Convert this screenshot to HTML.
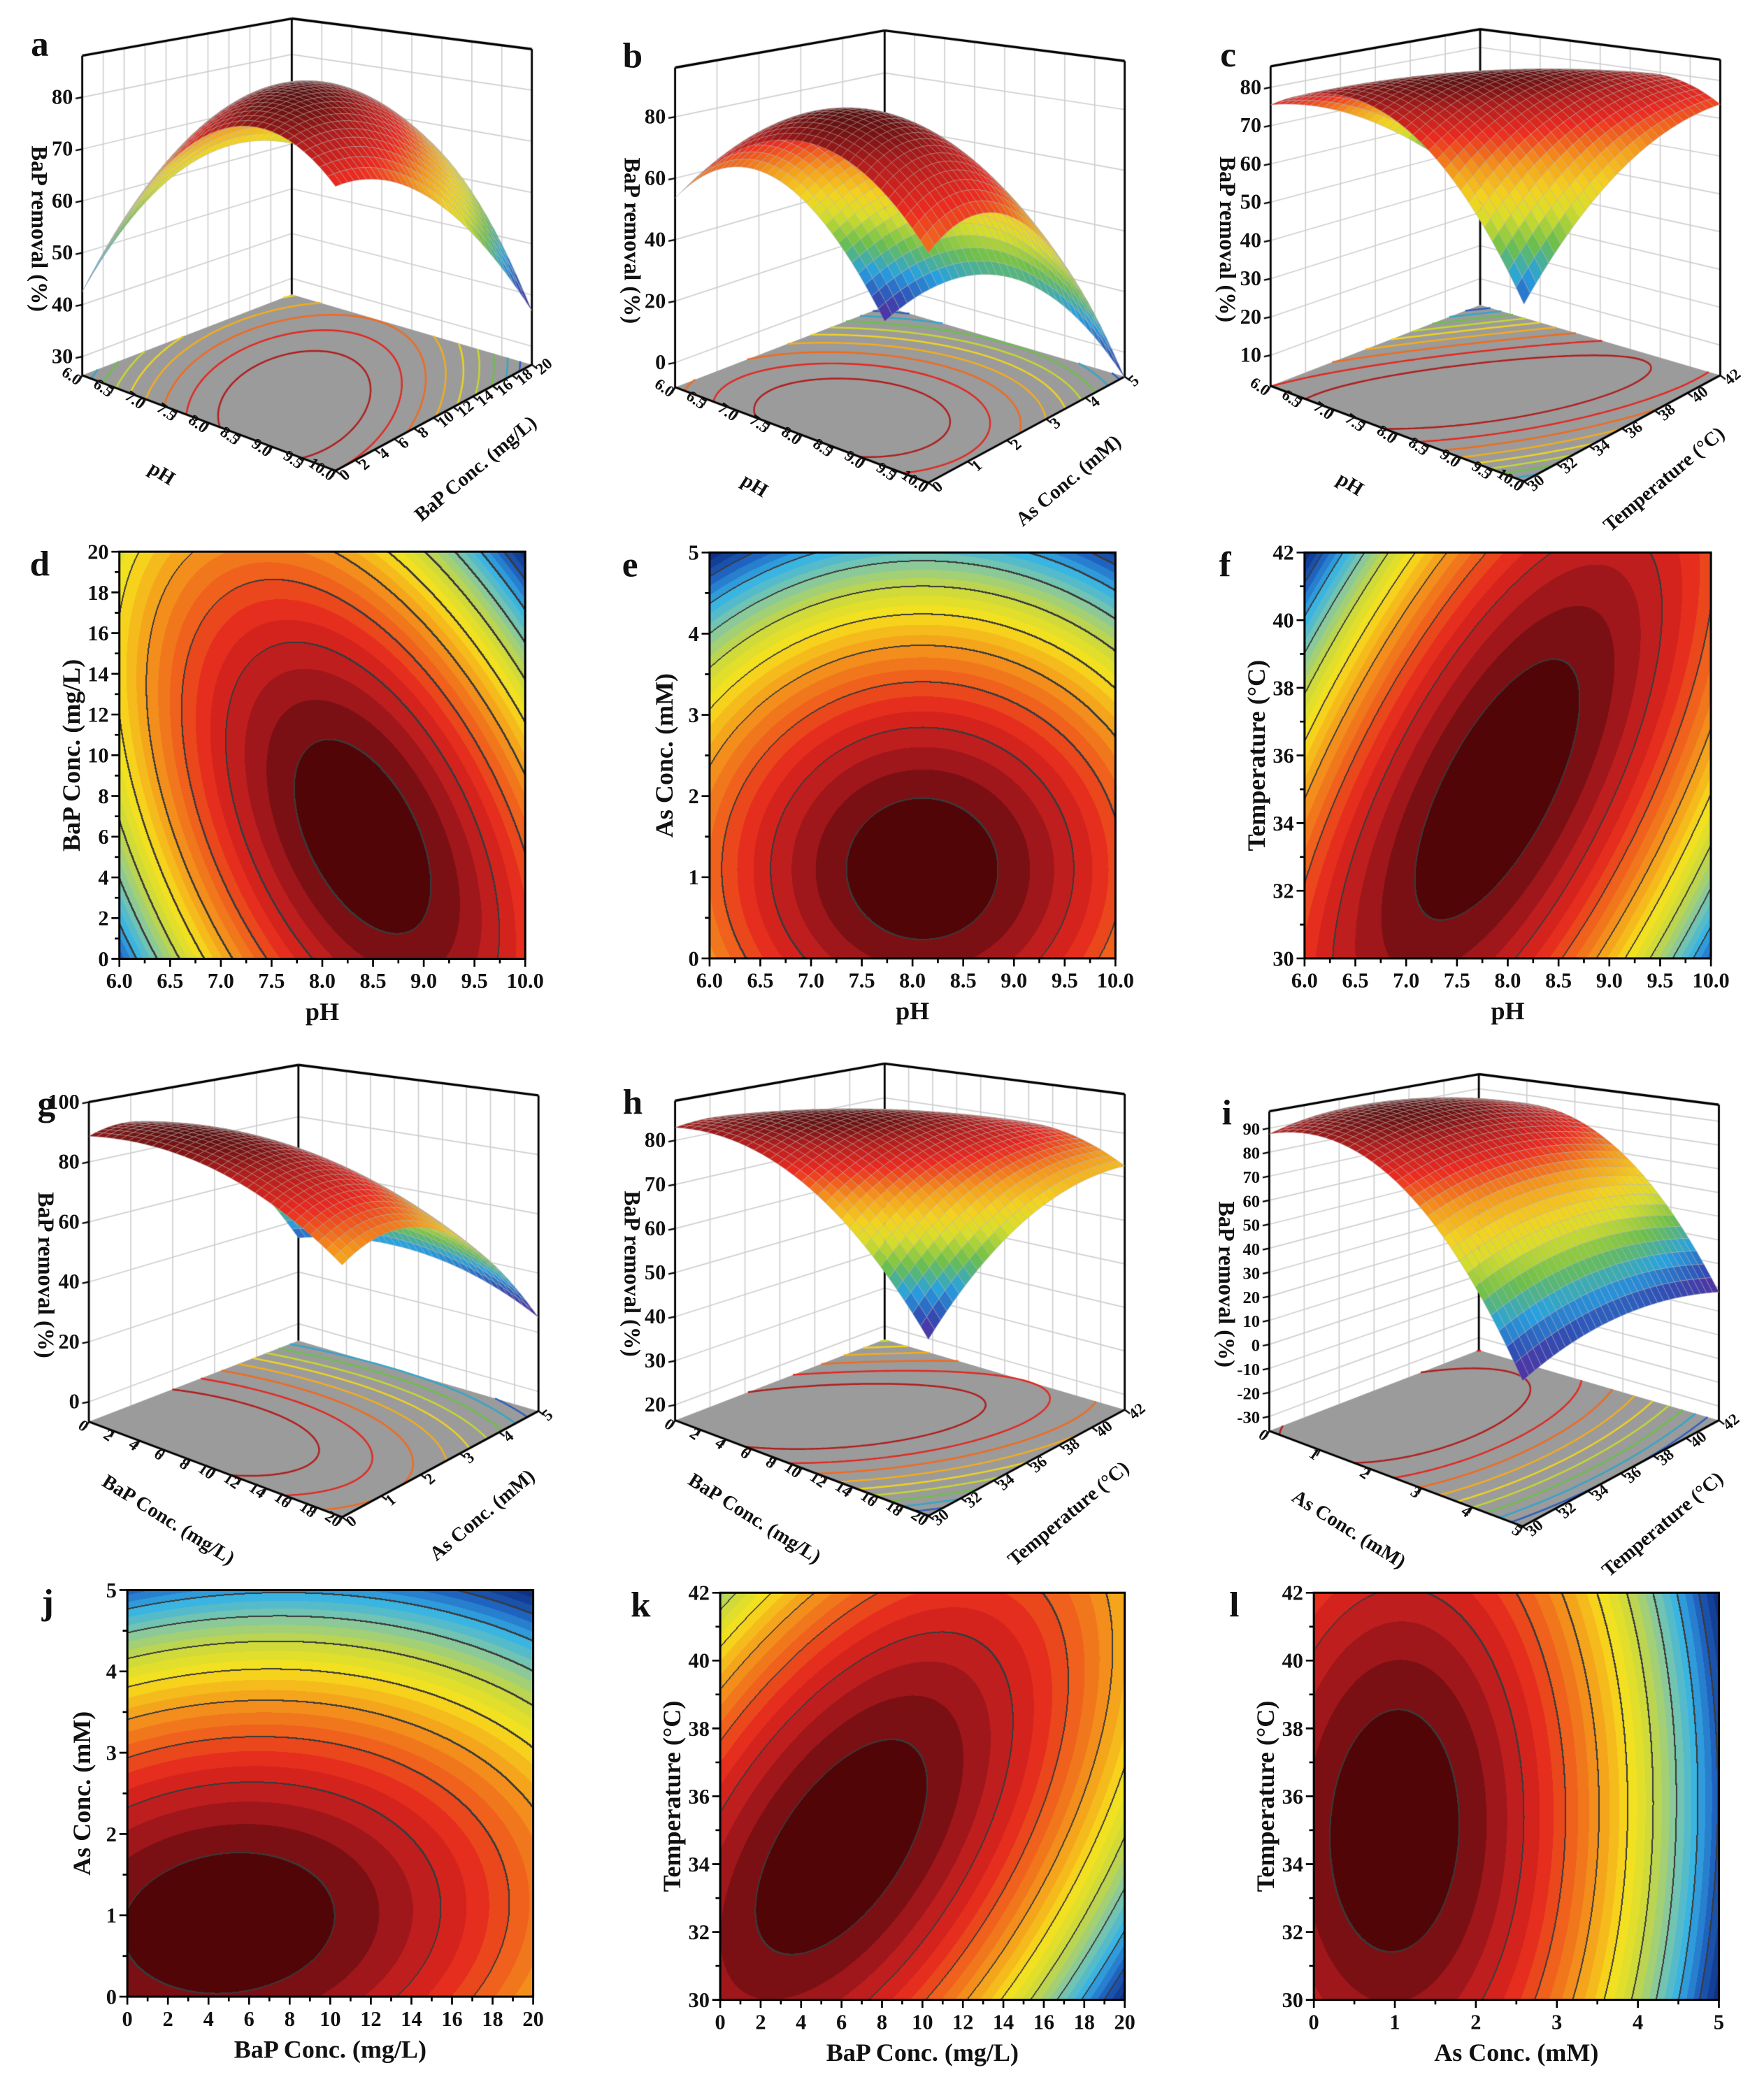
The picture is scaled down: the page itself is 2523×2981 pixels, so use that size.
<!DOCTYPE html>
<html><head><meta charset="utf-8"><style>
html,body{margin:0;padding:0;background:#fff}
#root{position:relative;width:2523px;height:2981px;overflow:hidden;background:#fff}
#cv{position:absolute;left:0;top:0}
#sv{position:absolute;left:0;top:0}
text{font-family:"Liberation Serif",serif;font-weight:bold;fill:#111}
</style></head><body>
<div id="root">
<canvas id="cv" width="2523" height="2981"></canvas>
<svg id="sv" width="2523" height="2981" viewBox="0 0 1330 1571.45"></svg>
</div>
<script>
// ---------- data: quadratic response models (coded units) ----------
const modelPeak=[85,88,85,93,86,97];
const modelCenter1=[0.2,0.05,-0.05,-0.5,-0.4,-0.6];
const modelCenter2=[-0.4,-0.56,-0.17,-0.64,-0.25,-0.17];
const modelA=[20,26,19.5,9,10.2,27.8];
const modelB=[10,30,7.8,20.5,6.6,8];
const modelC=[14,0,-17,-3,-9.6,-1.7];
const modelVar1=['pH','pH','pH','BaP','BaP','As'];
const modelVar2=['BaP','As','Temp','As','Temp','Temp'];
const varRange={pH:[6,10],BaP:[0,20],As:[0,5],Temp:[30,42]};
const varTitle={pH:'pH',BaP:'BaP Conc. (mg/L)',As:'As Conc. (mM)',Temp:'Temperature (\u00B0C)'};
const varTicks={pH:[6,6.5,7,7.5,8,8.5,9,9.5,10],BaP:[0,2,4,6,8,10,12,14,16,18,20],As:[0,1,2,3,4,5],Temp:[30,32,34,36,38,40,42]};
// 3D panels a,b,c,g,h,i
const p3Letter=['a','b','c','g','h','i'];
const p3BaseX=[220,667,1116,225,667,1115];
const p3BaseY=[222,231,230,1011,1010,1018];
const p3ZMin=[26.4,-8,2,-6.6,16.5,-36];
const p3ZMax=[88,96,85.5,100,89,97];
const p3ZTicks=[[30,40,50,60,70,80],[0,20,40,60,80],[10,20,30,40,50,60,70,80],[0,20,40,60,80,100],[20,30,40,50,60,70,80],[-30,-20,-10,0,10,20,30,40,50,60,70,80,90]];
// 2D panels d,e,f,j,k,l
const p2Letter=['d','e','f','j','k','l'];
const p2Box=[[90,416,396,723],[535,416.6,841,722.7],[983.6,416.6,1290,722.7],[96,1199,402,1505.6],[543,1201,848,1508],[990.6,1201,1296,1508]];

const S=2523/1330;
const cv=document.getElementById('cv');
const ctx=cv.getContext('2d');
const sv=document.getElementById('sv');
const NS='http://www.w3.org/2000/svg';

function model(m,v1,v2){
  const r1=varRange[modelVar1[m]], r2=varRange[modelVar2[m]];
  const x1=(v1-r1[0])/(r1[1]-r1[0])*2-1, x2=(v2-r2[0])/(r2[1]-r2[0])*2-1;
  const dx=x1-modelCenter1[m], dy=x2-modelCenter2[m];
  return modelPeak[m]-modelA[m]*dx*dx-modelB[m]*dy*dy-modelC[m]*dx*dy;
}
function hex(c){return [parseInt(c.substr(1,2),16),parseInt(c.substr(3,2),16),parseInt(c.substr(5,2),16)];}
const stops2=[[0,'#0d2a7c'],[0.09,'#1f62c0'],[0.18,'#35b3e6'],[0.28,'#86c8a0'],[0.38,'#c9d93e'],[0.48,'#f7e21c'],[0.6,'#f49a1c'],[0.7,'#ef601c'],[0.79,'#e3261d'],[0.87,'#b81c1e'],[0.94,'#7a1014'],[1,'#3c0000']].map(s=>[s[0],hex(s[1])]);
const stops3=[[0,'#5b2a9e'],[0.08,'#2f4fb5'],[0.18,'#27a1e1'],[0.3,'#6cc04a'],[0.42,'#d8de2a'],[0.52,'#f5d21e'],[0.64,'#f59a1b'],[0.78,'#ec2a20'],[0.9,'#b01d1d'],[1,'#5a0e0e']].map(s=>[s[0],hex(s[1])]);
function cmap(t,st){
  t=Math.max(0,Math.min(1,t));
  for(let i=1;i<st.length;i++){ if(t<=st[i][0]){const a=st[i-1],b=st[i];const f=(t-a[0])/(b[0]-a[0]);
    return [a[1][0]+(b[1][0]-a[1][0])*f,a[1][1]+(b[1][1]-a[1][1])*f,a[1][2]+(b[1][2]-a[1][2])*f];}}
  return st[st.length-1][1];
}
function rgb(c){return 'rgb('+Math.round(c[0])+','+Math.round(c[1])+','+Math.round(c[2])+')';}
function rangeOf(m){let mn=1e9,mx=-1e9;const r1=varRange[modelVar1[m]],r2=varRange[modelVar2[m]];
  for(let i=0;i<=60;i++)for(let j=0;j<=60;j++){const v=model(m,r1[0]+(r1[1]-r1[0])*i/60,r2[0]+(r2[1]-r2[0])*j/60);mn=Math.min(mn,v);mx=Math.max(mx,v);}
  return [mn,mx];}

function txt(x,y,s,size,name,anchor,rot){
  const t=document.createElementNS(NS,'text');
  t.setAttribute('x',x);t.setAttribute('y',y);t.setAttribute('font-size',size);
  t.setAttribute('text-anchor',anchor||'middle');
  if(rot) t.setAttribute('transform','rotate('+rot+' '+x+' '+y+')');
  t.textContent=s;
  
  
  sv.appendChild(t);return t;
}
function fmt(varName,v){return varName==='pH'?v.toFixed(1):String(v);}

// ---------- 2D contour plots ----------
const BANDS=28;
for(let k=0;k<6;k++){
  const m=k, box=p2Box[k], vn1=modelVar1[m], vn2=modelVar2[m];
  const r1=varRange[vn1], r2=varRange[vn2], rg=rangeOf(m);
  const X0=Math.round(box[0]*S),Y0=Math.round(box[1]*S),X1=Math.round(box[2]*S),Y1=Math.round(box[3]*S);
  const W=X1-X0,H=Y1-Y0;
  const img=ctx.createImageData(W,H);
  const tv=new Float32Array((W+2)*(H+2));
  for(let y=0;y<H+2;y++)for(let x=0;x<W+2;x++){
    const v1=r1[0]+(r1[1]-r1[0])*x/W, v2=r2[1]-(r2[1]-r2[0])*y/H;
    tv[y*(W+2)+x]=(model(m,v1,v2)-rg[0])/(rg[1]-rg[0]);
  }
  for(let y=0;y<H;y++)for(let x=0;x<W;x++){
    const t=tv[y*(W+2)+x];
    const b=Math.min(BANDS-1,Math.floor(t*BANDS));
    let c=cmap(Math.pow((b+0.5)/BANDS,1.15),stops2);
    const li=Math.floor(t*BANDS/3), lr=Math.floor(tv[y*(W+2)+x+2]*BANDS/3), ld=Math.floor(tv[(y+2)*(W+2)+x]*BANDS/3);
    if(li!==lr||li!==ld) c=[58,58,58];
    const o=(y*W+x)*4; img.data[o]=c[0];img.data[o+1]=c[1];img.data[o+2]=c[2];img.data[o+3]=255;
  }
  ctx.putImageData(img,X0,Y0);
  const g=document.createElementNS(NS,'g');
  
  
  sv.appendChild(g);
  const rect=document.createElementNS(NS,'rect');
  rect.setAttribute('x',box[0]);rect.setAttribute('y',box[1]);rect.setAttribute('width',box[2]-box[0]);rect.setAttribute('height',box[3]-box[1]);
  rect.setAttribute('fill','none');rect.setAttribute('stroke','#000');rect.setAttribute('stroke-width','1.6');
  
  
  g.appendChild(rect);
  let dpath='';
  const xs=v=>box[0]+(v-r1[0])/(r1[1]-r1[0])*(box[2]-box[0]);
  const ys=v=>box[3]-(v-r2[0])/(r2[1]-r2[0])*(box[3]-box[1]);
  const tx=varTicks[vn1], ty=varTicks[vn2];
  tx.forEach((v,i)=>{const X=xs(v);dpath+='M'+X+' '+box[3]+'v6';
    if(i<tx.length-1){const Xm=xs((v+tx[i+1])/2);dpath+='M'+Xm+' '+box[3]+'v3.5';}
    txt(X,box[3]+22,fmt(vn1,v),16,'x-tick-label');});
  ty.forEach((v,i)=>{const Y=ys(v);dpath+='M'+box[0]+' '+Y+'h-6';
    if(i<ty.length-1){const Ym=ys((v+ty[i+1])/2);dpath+='M'+box[0]+' '+Ym+'h-3.5';}
    txt(box[0]-8,Y+5.5,fmt(vn2,v),16,'y-tick-label','end');});
  const pt=document.createElementNS(NS,'path');pt.setAttribute('d',dpath);pt.setAttribute('stroke','#000');pt.setAttribute('stroke-width','1.4');
  
  
  g.appendChild(pt);
  txt((box[0]+box[2])/2,box[3]+46,varTitle[vn1],19,'x-axis-title');
  const ylx=box[0]-(vn2==='As'?28:30);
  txt(ylx,(box[1]+box[3])/2,varTitle[vn2],19,'y-axis-title','middle',-90);
  txt(box[0]-60,box[1]+18,p2Letter[k],27,'panel-label-'+p2Letter[k]);
}

// ---------- 3D surface plots ----------
const OFF_L=[-158,61],OFF_R=[181,53],OFF_F=[33,133];
const HB=208,HL=241,HR=238,HF=270;
for(let k=0;k<6;k++){
  const m=k, vn1=modelVar1[m], vn2=modelVar2[m], r1=varRange[vn1], r2=varRange[vn2];
  const bx=p3BaseX[k],by=p3BaseY[k],zmin=p3ZMin[k],zmax=p3ZMax[k];
  const L=[bx+OFF_L[0],by+OFF_L[1]],R=[bx+OFF_R[0],by+OFF_R[1]],F=[bx+OFF_F[0],by+OFF_F[1]],B=[bx,by];
  function proj(p,q,z){
    const w0=(1-p)*(1-q),w1=p*(1-q),w2=p*q,w3=(1-p)*q;
    const x=w0*L[0]+w1*F[0]+w2*R[0]+w3*B[0], y=w0*L[1]+w1*F[1]+w2*R[1]+w3*B[1];
    const h=w0*HL+w1*HF+w2*HR+w3*HB;
    return [x,y-(z-zmin)/(zmax-zmin)*h];
  }
  const pOf=v=>(v-r1[0])/(r1[1]-r1[0]), qOf=v=>(v-r2[0])/(r2[1]-r2[0]);
  ctx.setTransform(S,0,0,S,0,0);
  function line(a,b,col,w){ctx.strokeStyle=col;ctx.lineWidth=w;ctx.beginPath();ctx.moveTo(a[0],a[1]);ctx.lineTo(b[0],b[1]);ctx.stroke();}
  const zt=p3ZTicks[k];
  zt.forEach(z=>{line(proj(0,0,z),proj(0,1,z),'#cfcfcf',0.9);line(proj(0,1,z),proj(1,1,z),'#cfcfcf',0.9);});
  varTicks[vn2].forEach(v=>line(proj(0,qOf(v),zmin),proj(0,qOf(v),zmax),'#cfcfcf',0.9));
  varTicks[vn1].forEach(v=>line(proj(pOf(v),1,zmin),proj(pOf(v),1,zmax),'#cfcfcf',0.9));
  ctx.fillStyle='#9b9b9b';ctx.beginPath();
  [proj(0,0,zmin),proj(1,0,zmin),proj(1,1,zmin),proj(0,1,zmin)].forEach((pt,i)=>i?ctx.lineTo(pt[0],pt[1]):ctx.moveTo(pt[0],pt[1]));
  ctx.closePath();ctx.fill();
  const rg=rangeOf(m);
  const N=80, grid=[];
  for(let i=0;i<=N;i++){grid.push([]);for(let j=0;j<=N;j++)grid[i].push(model(m,r1[0]+(r1[1]-r1[0])*i/N,r2[0]+(r2[1]-r2[0])*j/N));}
  const nLev=10;
  for(let l=1;l<nLev;l++){
    const lev=rg[0]+(rg[1]-rg[0])*l/nLev;
    ctx.strokeStyle=rgb(cmap(l/nLev,stops3));ctx.lineWidth=1.3;ctx.beginPath();
    for(let i=0;i<N;i++)for(let j=0;j<N;j++){
      const c=[[i,j],[i+1,j],[i+1,j+1],[i,j+1]];const pts=[];
      for(let e=0;e<4;e++){const a=c[e],b=c[(e+1)%4];const va=grid[a[0]][a[1]],vb=grid[b[0]][b[1]];
        if((va-lev)*(vb-lev)<0){const f=(lev-va)/(vb-va);pts.push([(a[0]+(b[0]-a[0])*f)/N,(a[1]+(b[1]-a[1])*f)/N]);}}
      if(pts.length>=2){const P=proj(pts[0][0],pts[0][1],zmin),Q=proj(pts[1][0],pts[1][1],zmin);ctx.moveTo(P[0],P[1]);ctx.lineTo(Q[0],Q[1]);}
    }
    ctx.stroke();
  }
  line(proj(0,0,zmin),proj(0,0,zmax),'#000',1.5);
  line(proj(0,1,zmin),proj(0,1,zmax),'#000',1.5);
  line(proj(1,1,zmin),proj(1,1,zmax),'#000',1.5);
  line(proj(0,0,zmax),proj(0,1,zmax),'#000',1.8);
  line(proj(0,1,zmax),proj(1,1,zmax),'#000',1.8);
  line(proj(0,0,zmin),proj(1,0,zmin),'#000',1.6);
  line(proj(1,0,zmin),proj(1,1,zmin),'#000',1.6);
  const M=32,quads=[];
  for(let i=0;i<M;i++)for(let j=0;j<M;j++)quads.push([i,j]);
  quads.sort((a,b)=>(a[0]-a[1])-(b[0]-b[1]));
  const zf=(i,j)=>model(m,r1[0]+(r1[1]-r1[0])*i/M,r2[0]+(r2[1]-r2[0])*j/M);
  quads.forEach(([i,j])=>{
    const zs=[zf(i,j),zf(i+1,j),zf(i+1,j+1),zf(i,j+1)];
    const P=[proj(i/M,j/M,zs[0]),proj((i+1)/M,j/M,zs[1]),proj((i+1)/M,(j+1)/M,zs[2]),proj(i/M,(j+1)/M,zs[3])];
    const za=(zs[0]+zs[1]+zs[2]+zs[3])/4;
    ctx.fillStyle=rgb(cmap(Math.pow((za-rg[0])/(rg[1]-rg[0]),1.15),stops3));
    ctx.beginPath();P.forEach((pt,n)=>n?ctx.lineTo(pt[0],pt[1]):ctx.moveTo(pt[0],pt[1]));ctx.closePath();ctx.fill();
    ctx.strokeStyle='rgba(175,175,175,0.55)';ctx.lineWidth=0.45;ctx.stroke();
  });
  varTicks[vn1].forEach(v=>{const P=proj(pOf(v),0,zmin);line(P,[P[0]-2.5,P[1]+4.5],'#000',1.2);});
  varTicks[vn2].forEach(v=>{const P=proj(1,qOf(v),zmin);line(P,[P[0]+4,P[1]+3],'#000',1.2);});
  zt.forEach(z=>{const P=proj(0,0,z);line(P,[P[0]-5,P[1]+1],'#000',1.2);});
  const g=document.createElementNS(NS,'g');
  
  
  sv.appendChild(g);
  zt.forEach(z=>{const P=proj(0,0,z);txt(P[0]-7,P[1]+5,String(z),k===5?13:16,'z-tick-label','end');});
  varTicks[vn1].forEach(v=>{const P=proj(pOf(v),0,zmin);txt(P[0]-4,P[1]+8,fmt(vn1,v),12,'floor-tick-label','end',35);});
  varTicks[vn2].forEach(v=>{const P=proj(1,qOf(v),zmin);txt(P[0]+7,P[1]+8,fmt(vn2,v),12,'floor-tick-label','start',-40);});
  const m1=proj(0.5,0,zmin);txt(m1[0]-38,m1[1]+42,varTitle[vn1],15,'floor-axis-title','middle',32);
  const m2=proj(1,0.45,zmin);txt(m2[0]+42,m2[1]+38,varTitle[vn2],15,'floor-axis-title','middle',-40);
  const tl=proj(0,0,zmax), bl=proj(0,0,zmin);
  txt(bl[0]-38,(tl[1]+bl[1])/2+10,'BaP removal (%)',17,'z-axis-title','middle',90);
  txt(bl[0]-32,by-180+(k>=3?10:0),p3Letter[k],27,'panel-label-'+p3Letter[k]);
}
</script>
</body></html>
